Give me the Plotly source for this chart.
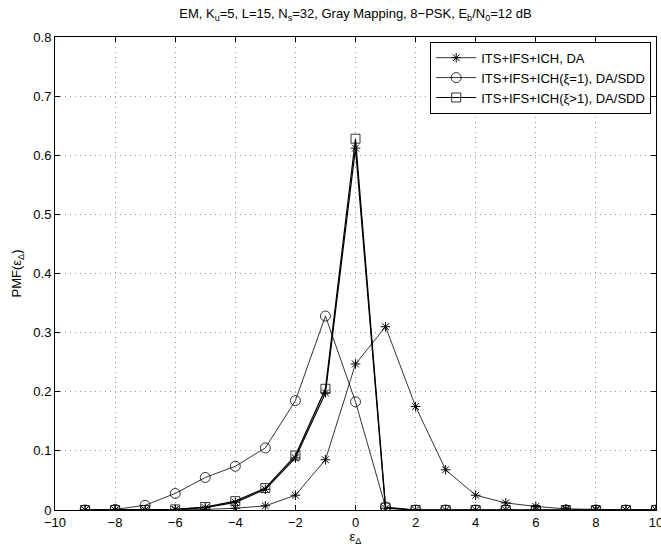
import plotly.graph_objects as go

x = list(range(-9, 11))

# ITS+IFS+ICH, DA (asterisk)
y_da = [0, 0, 0, 0.0005, 0.001, 0.003, 0.007, 0.025, 0.085, 0.247, 0.31, 0.175, 0.068, 0.025, 0.012, 0.006, 0.002, 0.001, 0, 0]
# ITS+IFS+ICH(xi=1), DA/SDD (circle)
y_xi1 = [0, 0.001, 0.008, 0.028, 0.055, 0.074, 0.105, 0.185, 0.328, 0.183, 0.005, 0, 0, 0, 0, 0, 0, 0, 0, 0]
# ITS+IFS+ICH(xi>1), DA/SDD (square)
y_xig1 = [0, 0, 0, 0.001, 0.005, 0.015, 0.037, 0.092, 0.205, 0.628, 0.004, 0, 0, 0, 0, 0, 0, 0, 0, 0]
# extra curve drawn without legend entry (asterisk, close to squares)
y_extra = [0, 0, 0, 0.001, 0.004, 0.013, 0.035, 0.088, 0.198, 0.612, 0.003, 0, 0, 0, 0, 0, 0, 0, 0, 0]

FONT = "Liberation Sans"

fig = go.Figure()
fig.add_trace(go.Scatter(x=x, y=y_extra, mode="lines+markers", showlegend=False,
                         line=dict(color="black", width=1.2),
                         marker=dict(symbol="asterisk-open", size=8, color="black", line=dict(width=1, color="black"))))
fig.add_trace(go.Scatter(x=x, y=y_da, mode="lines+markers", name="ITS+IFS+ICH, DA",
                         line=dict(color="black", width=0.8),
                         marker=dict(symbol="asterisk-open", size=8, color="black", line=dict(width=1, color="black"))))
fig.add_trace(go.Scatter(x=x, y=y_xi1, mode="lines+markers", name="ITS+IFS+ICH(ξ=1), DA/SDD",
                         line=dict(color="black", width=0.8),
                         marker=dict(symbol="circle-open", size=10, color="black", line=dict(width=0.8, color="black"))))
fig.add_trace(go.Scatter(x=x, y=y_xig1, mode="lines+markers", name="ITS+IFS+ICH(ξ>1), DA/SDD",
                         line=dict(color="black", width=1.2),
                         marker=dict(symbol="square-open", size=9, color="black", line=dict(width=0.8, color="black"))))

axis_common = dict(showline=True, linecolor="black", linewidth=1, mirror="ticks",
                   ticks="inside", ticklen=5, tickcolor="black",
                   showgrid=True, gridcolor="#999999", griddash="1px,4px", gridwidth=1,
                   zeroline=False, ticklabeloverflow="allow", automargin=False,
                   tickfont=dict(size=13, color="black", family=FONT))

fig.update_layout(
    width=661, height=546,
    margin=dict(l=55, r=5, t=37, b=36),
    paper_bgcolor="white", plot_bgcolor="white",
    font=dict(family=FONT, size=13, color="black"),
    title=dict(text="EM, K<sub>u</sub>=5, L=15, N<sub>s</sub>=32, Gray Mapping, 8−PSK, E<sub>b</sub>/N<sub>0</sub>=12 dB",
               x=0.5, xref="paper", xanchor="center", y=0.975, yanchor="middle",
               font=dict(size=13, family=FONT, color="black")),
    xaxis=dict(range=[-10, 10], tickvals=list(range(-10, 11, 2)),
               ticktext=["−10", "−8", "−6", "−4", "−2", "0", "2", "4", "6", "8", "10"],
               title=dict(text="ε<sub>Δ</sub>", standoff=0, font=dict(size=13)), **axis_common),
    yaxis=dict(range=[0, 0.8], tickvals=[0, 0.1, 0.2, 0.3, 0.4, 0.5, 0.6, 0.7, 0.8],
               ticktext=["0", "0.1", "0.2", "0.3", "0.4", "0.5", "0.6", "0.7", "0.8"],
               title=dict(text="PMF(ε<sub>Δ</sub>)", standoff=8, font=dict(size=13)), **axis_common),
    legend=dict(x=0.992, y=0.99, xanchor="right", yanchor="top",
                bgcolor="white", bordercolor="black", borderwidth=1,
                font=dict(size=13, family=FONT), tracegroupgap=0,
                itemwidth=40),
)

fig.write_html("out.html")
